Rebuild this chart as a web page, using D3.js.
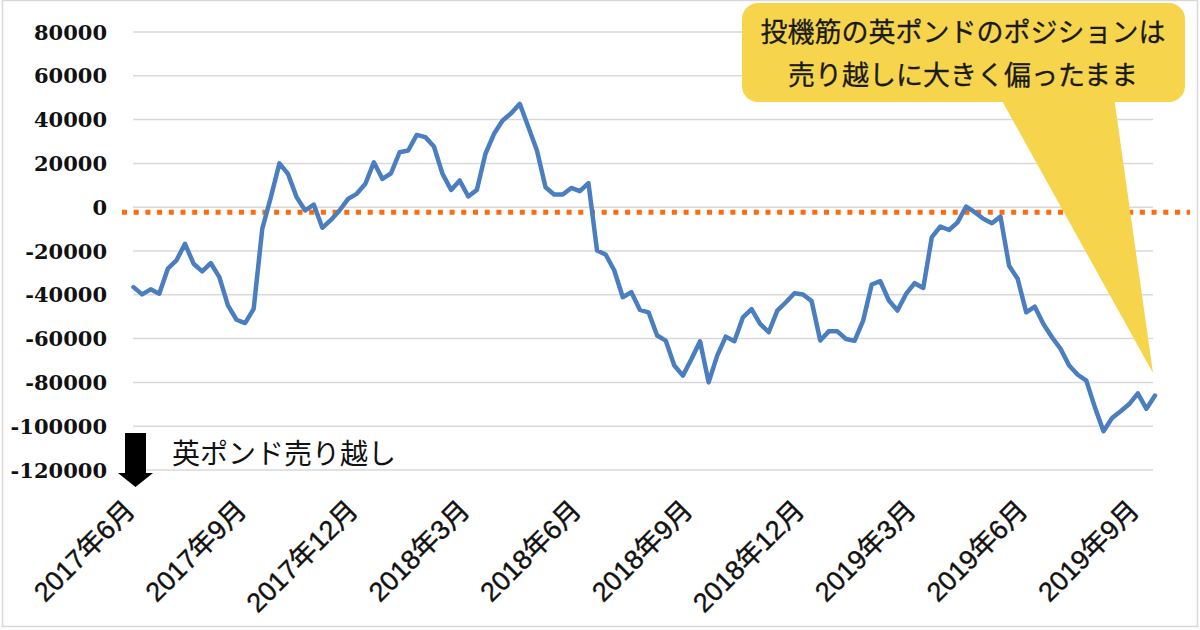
<!DOCTYPE html>
<html>
<head>
<meta charset="utf-8">
<script src="https://cdn.jsdelivr.net/npm/d3@7/dist/d3.min.js"></script>
<style>
  html, body { margin: 0; padding: 0; background: #ffffff; }
  svg { display: block; }
</style>
</head>
<body>
<svg id="chart" width="1200" height="630"></svg>
<script>
// ---- data ----
const positions = [
  -36500, -39800, -37500, -39500, -28100, -24300, -16700, -25800, -29300, -25500,
  -31900, -44800, -51400, -52900, -46400, -9900, 4600, 20000, 15200, 4600,
  -1500, 1200, -9400, -5800, -1500, 3800, 6100, 10600, 20500, 12900,
  15500, 25100, 25900, 33000, 32000, 27700, 15200, 7900, 12200, 4900,
  7900, 24400, 33500, 39600, 42900, 47200, 36600, 25900, 9100, 5800,
  5800, 8800, 7300, 11000, -19800, -21600, -28800, -41100, -38800, -46900,
  -48000, -58600, -60900, -72300, -76900, -69300, -61200, -80000, -67800, -59100,
  -61200, -50300, -46500, -53300, -57100, -47200, -43400, -39300, -39900, -42900,
  -60900, -56700, -56700, -60200, -61000, -51800, -35300, -33800, -42600, -47200,
  -39600, -34700, -36900, -13700, -8800, -10400, -6900, 300, -2300, -5300,
  -7300, -4300, -26700, -32700, -48000, -45400, -53300, -59400, -64700, -72300,
  -76500, -79200, -91400, -102300, -96300, -93200, -89900, -85000, -92100, -86000
];
const tickWeeks = [0, 13, 26, 39, 52, 65, 78, 91, 104, 117];
const tickLabels = ["2017年6月", "2017年9月", "2017年12月", "2018年3月", "2018年6月",
                    "2018年9月", "2018年12月", "2019年3月", "2019年6月", "2019年9月"];
const yTicks = [80000, 60000, 40000, 20000, 0, -20000, -40000, -60000, -80000, -100000, -120000];
const referenceLevel = -2300;
const calloutLines = ["投機筋の英ポンドのポジションは", "売り越しに大きく偏ったまま"];
const arrowLabel = "英ポンド売り越し";

// ---- drawing ----
const svg = d3.select("#chart");
const x = d3.scaleLinear().domain([0, positions.length - 1]).range([133.5, 1155]);
const y = d3.scaleLinear().domain([-120000, 80000]).range([470, 32]);

// outer border
svg.append("rect").attr("x", 2.5).attr("y", 0.5).attr("width", 1195).attr("height", 626)
  .attr("fill", "#fff").attr("stroke", "#d9d9d9").attr("stroke-width", 1.5);

// gridlines
svg.append("g").selectAll("line").data(yTicks).join("line")
  .attr("x1", 133).attr("x2", 1153)
  .attr("y1", d => y(d)).attr("y2", d => y(d))
  .attr("stroke", "#d9d9d9").attr("stroke-width", 1.5);

// y labels
svg.append("g").selectAll("text").data(yTicks).join("text")
  .attr("x", 107).attr("y", d => y(d)).attr("dy", "0.36em")
  .attr("text-anchor", "end")
  .attr("font-family", "'DejaVu Serif', 'Liberation Serif', serif")
  .attr("font-weight", "bold").attr("font-size", 21)
  .attr("fill", "#111")
  .text(d => d);

// x labels
svg.append("g").selectAll("text").data(tickWeeks).join("text")
  .attr("transform", (d) => `translate(${x(d) + 3},${512}) rotate(-45)`)
  .attr("text-anchor", "end")
  .attr("font-family", "'Liberation Sans', Arial, 'Noto Sans CJK JP', sans-serif")
  .attr("font-size", 27).attr("fill", "#111")
  .attr("stroke", "#111").attr("stroke-width", 0.4)
  .text((d, i) => tickLabels[i]);

// reference dotted line
svg.append("line")
  .attr("x1", 122).attr("x2", 1190)
  .attr("y1", y(referenceLevel)).attr("y2", y(referenceLevel))
  .attr("stroke", "#ff6a0d").attr("stroke-width", 5)
  .attr("stroke-dasharray", "5 6.7");

// data line
const line = d3.line().x((d, i) => x(i)).y(d => y(d));
svg.append("path").datum(positions)
  .attr("d", line)
  .attr("fill", "none").attr("stroke", "#4a7ebf").attr("stroke-width", 4.5)
  .attr("stroke-linejoin", "round").attr("stroke-linecap", "round");

// callout
const callout = svg.append("g");
callout.append("path")
  .attr("d", "M996,90 L1113,90 L1153,373 Z")
  .attr("fill", "#f6d54c");
callout.append("rect")
  .attr("x", 742).attr("y", 3).attr("width", 443).attr("height", 99).attr("rx", 16)
  .attr("fill", "#f6d54c");
callout.selectAll("text").data(calloutLines).join("text")
  .attr("x", 963).attr("y", (d, i) => 42 + i * 43)
  .attr("text-anchor", "middle")
  .attr("font-family", "'Noto Sans CJK JP', sans-serif")
  .attr("font-size", 27).attr("fill", "#1a1a1a")
  .attr("stroke", "#1a1a1a").attr("stroke-width", 0.3)
  .text(d => d);

// arrow
svg.append("path")
  .attr("d", "M125,433 L146,433 L146,473 L153,473 L135.5,487 L118,473 L125,473 Z")
  .attr("fill", "#000");
svg.append("text")
  .attr("x", 172).attr("y", 464)
  .attr("font-family", "'Noto Sans CJK JP', sans-serif")
  .attr("font-size", 28).attr("fill", "#111")
  .text(arrowLabel);
</script>
</body>
</html>
